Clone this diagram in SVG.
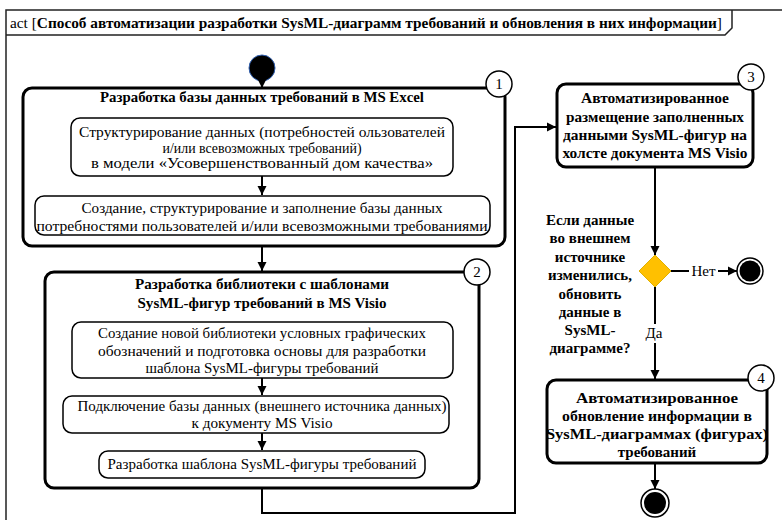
<svg xmlns="http://www.w3.org/2000/svg" width="782" height="520" viewBox="0 0 782 520">
<defs>
<style>
.frame{fill:none;stroke:#222;stroke-width:1.5}
.outer{fill:#fff;stroke:#000;stroke-width:3}
.inner{fill:#fff;stroke:#000;stroke-width:1.5}
.num{fill:#fff;stroke:#000;stroke-width:1.5}
.t{font-family:"Liberation Serif","Times New Roman",serif;font-size:15px;fill:#000;text-anchor:middle}
.b{font-weight:bold}
.conn{fill:none;stroke:#000;stroke-width:2}
</style>
<marker id="arr" viewBox="0 0 10 10" refX="10" refY="5" markerWidth="9" markerHeight="10" markerUnits="userSpaceOnUse" orient="auto">
<path d="M0,0 L10,5 L0,10 z" fill="#000"/>
</marker>
</defs>
<rect width="782" height="520" fill="#fff"/>
<g id="frame">
<path class="frame" d="M6,530 V10 H800"/>
<path class="frame" d="M6,35 H725 L732,28 V10"/>
<text x="10" y="28" textLength="712" lengthAdjust="spacingAndGlyphs" style="font-family:'Liberation Serif','Times New Roman',serif;font-size:15px">act [<tspan font-weight="bold">Способ автоматизации разработки SysML-диаграмм требований и обновления в них информации</tspan>]</text>
</g>
<g id="start">
<circle cx="262" cy="68" r="13" fill="#000" stroke="#2f5fb0" stroke-width="1"/>
</g>
<g id="box1">
<rect class="outer" x="23" y="88" width="482" height="158" rx="9"/>
<circle class="num" cx="499" cy="84" r="13"/>
<text class="t" x="499" y="89">1</text>
<text class="t b" x="262" y="102" textLength="324" lengthAdjust="spacingAndGlyphs">Разработка базы данных требований в MS Excel</text>
</g>
<g id="box1a">
<rect class="inner" x="71" y="118" width="382" height="58" rx="9"/>
<text class="t" x="262" y="137" textLength="366" lengthAdjust="spacingAndGlyphs">Структурирование данных (потребностей ользователей</text>
<text class="t" x="262" y="153" textLength="199" lengthAdjust="spacingAndGlyphs">и/или всевозможных требований)</text>
<text class="t" x="262" y="168" textLength="342" lengthAdjust="spacingAndGlyphs">в модели «Усовершенствованный дом качества»</text>
</g>
<g id="box1b">
<rect class="inner" x="35" y="196" width="455" height="39" rx="9"/>
<text class="t" x="262" y="213" textLength="361" lengthAdjust="spacingAndGlyphs">Создание, структурирование и заполнение базы данных</text>
<text class="t" x="262" y="231" textLength="451" lengthAdjust="spacingAndGlyphs">потребностями пользователей и/или всевозможными требованиями</text>
</g>
<g id="box2">
<rect class="outer" x="45" y="272" width="434" height="216" rx="9"/>
<circle class="num" cx="477" cy="272" r="13"/>
<text class="t" x="477" y="277">2</text>
<text class="t b" x="262" y="289" textLength="254" lengthAdjust="spacingAndGlyphs">Разработка библиотеки с шаблонами</text>
<text class="t b" x="262" y="308" textLength="249" lengthAdjust="spacingAndGlyphs">SysML-фигур требований в MS Visio</text>
</g>
<g id="box2a">
<rect class="inner" x="72" y="322" width="381" height="56" rx="9"/>
<text class="t" x="262" y="338" textLength="328" lengthAdjust="spacingAndGlyphs">Создание новой библиотеки условных графических</text>
<text class="t" x="262" y="356" textLength="328" lengthAdjust="spacingAndGlyphs">обозначений и подготовка основы для разработки</text>
<text class="t" x="262" y="373" textLength="233" lengthAdjust="spacingAndGlyphs">шаблона SysML-фигуры требований</text>
</g>
<g id="box2b">
<rect class="inner" x="63" y="396" width="386" height="37" rx="9"/>
<text class="t" x="262" y="411" textLength="369" lengthAdjust="spacingAndGlyphs">Подключение базы данных (внешнего источника данных)</text>
<text class="t" x="262" y="428" textLength="141" lengthAdjust="spacingAndGlyphs">к документу MS Visio</text>
</g>
<g id="box2c">
<rect class="inner" x="99" y="451" width="326" height="27" rx="9"/>
<text class="t" x="262" y="469" textLength="309" lengthAdjust="spacingAndGlyphs">Разработка шаблона SysML-фигуры требований</text>
</g>
<g id="box3">
<rect class="outer" x="557" y="84" width="196" height="83" rx="9"/>
<circle class="num" cx="751" cy="77" r="13"/>
<text class="t" x="751" y="82">3</text>
<text class="t b" x="655" y="103" textLength="148" lengthAdjust="spacingAndGlyphs">Автоматизированное</text>
<text class="t b" x="655" y="122" textLength="178" lengthAdjust="spacingAndGlyphs">размещение заполненных</text>
<text class="t b" x="655" y="140" textLength="184" lengthAdjust="spacingAndGlyphs">данными SysML-фигур на</text>
<text class="t b" x="655" y="158" textLength="185" lengthAdjust="spacingAndGlyphs">холсте документа MS Visio</text>
</g>
<g id="decision">
<polygon points="655,255 671,271 655,287 639,271" fill="#ffc000" stroke="#e0b000" stroke-width="1"/>
<text class="t b" x="590" y="225">Если данные</text>
<text class="t b" x="590" y="243">во внешнем</text>
<text class="t b" x="590" y="262">источнике</text>
<text class="t b" x="590" y="280">изменились,</text>
<text class="t b" x="590" y="299">обновить</text>
<text class="t b" x="590" y="317">данные в</text>
<text class="t b" x="590" y="335">SysML-</text>
<text class="t b" x="590" y="353">диаграмме?</text>
</g>
<g id="end1">
<circle cx="750" cy="271" r="13" fill="#fff" stroke="#000" stroke-width="1.5"/>
<circle cx="750" cy="271" r="10.5" fill="#000"/>
</g>
<g id="box4">
<rect class="outer" x="547" y="380" width="220" height="83" rx="9"/>
<circle class="num" cx="761" cy="378" r="13"/>
<text class="t" x="761" y="383">4</text>
<text class="t b" x="657" y="403" textLength="162" lengthAdjust="spacingAndGlyphs">Автоматизированное</text>
<text class="t b" x="657" y="421" textLength="190" lengthAdjust="spacingAndGlyphs">обновление информации в</text>
<text class="t b" x="657" y="439" textLength="222" lengthAdjust="spacingAndGlyphs">SysML-диаграммах (фигурах)</text>
<text class="t b" x="657" y="457">требований</text>
</g>
<g id="end2">
<circle cx="655" cy="503" r="14" fill="#fff" stroke="#000" stroke-width="1.5"/>
<circle cx="655" cy="503" r="11" fill="#000"/>
</g>
<g id="connectors">
<path class="conn" d="M262,81 V88" marker-end="url(#arr)"/>
<path class="conn" d="M262,176 V195" marker-end="url(#arr)"/>
<path class="conn" d="M262,247 V271" marker-end="url(#arr)"/>
<path class="conn" d="M262,378 V395" marker-end="url(#arr)"/>
<path class="conn" d="M262,433 V450" marker-end="url(#arr)"/>
<path class="conn" d="M262,489 V513 H515 V127 H556" marker-end="url(#arr)"/>
<path class="conn" d="M655,168 V255" marker-end="url(#arr)"/>
<path class="conn" d="M671,271 H689"/>
<path class="conn" d="M718,271 H737" marker-end="url(#arr)"/>
<path class="conn" d="M655,287 V324"/>
<path class="conn" d="M655,343 V379" marker-end="url(#arr)"/>
<path class="conn" d="M655,464 V489" marker-end="url(#arr)"/>
<text class="t" x="703.5" y="276">Нет</text>
<text class="t" x="654" y="338">Да</text>
</g>
</svg>
